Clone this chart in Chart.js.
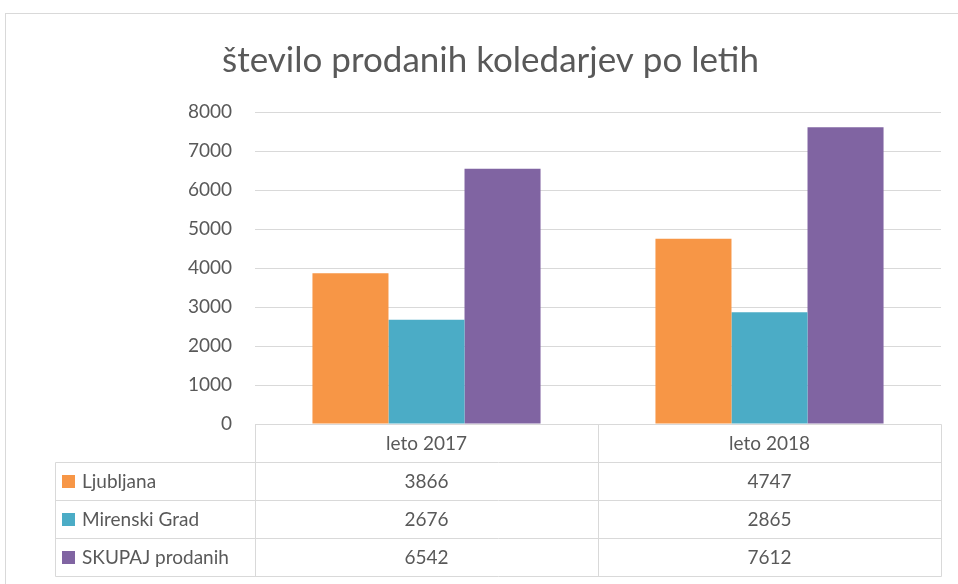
<!DOCTYPE html>
<html>
<head>
<meta charset="utf-8">
<script src="https://cdn.jsdelivr.net/npm/chart.js@4"></script>
<style>html,body{margin:0;padding:0;background:#fff;}</style>
</head>
<body>
<canvas id="grafico" width="958" height="584"></canvas>
<script>
var leta = ['leto 2017', 'leto 2018'];
var serije = ['Ljubljana', 'Mirenski Grad', 'SKUPAJ prodanih'];
var ljubljana = [3866, 4747];
var mirenski = [2676, 2865];
var skupaj = [6542, 7612];
var barve = ['#F79646', '#4BACC6', '#8064A2'];

var pisava = 'Lato, "Open Sans", sans-serif';
var siva = '#595959';
var crte = '#d9d9d9';

// okvir grafa
var okvir = {
    id: 'okvir',
    beforeDraw: function(chart) {
        var c = chart.ctx;
        c.save();
        c.fillStyle = '#fff';
        c.fillRect(0, 0, chart.width, chart.height);
        c.strokeStyle = crte;
        c.lineWidth = 1;
        c.strokeRect(5.5, 13.5, chart.width + 10, chart.height + 10);
        c.restore();
    }
};

// podatkovna tabela pod grafom
var tabela = {
    id: 'tabela',
    afterDraw: function(chart) {
        var c = chart.ctx, a = chart.chartArea, x = chart.scales.x;
        var levo = 55, vis = 38, vrh = Math.round(a.bottom) + 0.5;
        var sirina = (a.right - a.left) / leta.length;
        var meje = [Math.round(a.left) + 0.5];
        for (var i = 0; i < leta.length; i++) {
            meje.push(Math.round(x.getPixelForValue(i) + sirina / 2) + 0.5);
        }
        var desno = meje[meje.length - 1];
        var dno = vrh + vis * 4;
        c.save();
        c.strokeStyle = crte;
        c.lineWidth = 1;
        c.beginPath();
        c.moveTo(meje[0], vrh); c.lineTo(desno, vrh);
        for (var r = 1; r <= 4; r++) {
            c.moveTo(levo + 0.5, vrh + vis * r); c.lineTo(desno, vrh + vis * r);
        }
        c.moveTo(levo + 0.5, vrh + vis); c.lineTo(levo + 0.5, dno);
        meje.forEach(function(m) { c.moveTo(m, vrh); c.lineTo(m, dno); });
        c.stroke();

        var vrednosti = [ljubljana, mirenski, skupaj];
        c.font = '19px ' + pisava;
        c.textBaseline = 'middle';
        for (var s = 0; s < serije.length; s++) {
            var sred = vrh + vis * (s + 1) + vis / 2;
            c.fillStyle = barve[s];
            c.fillRect(62, Math.round(sred - 7), 13, 13);
            c.fillStyle = siva;
            c.textAlign = 'left';
            c.fillText(serije[s], 82, sred);
            c.textAlign = 'center';
            for (var k = 0; k < leta.length; k++) {
                c.fillText(String(vrednosti[s][k]), x.getPixelForValue(k), sred);
            }
        }
        c.restore();
    }
};

var ctx = document.getElementById('grafico').getContext('2d');
var graf = new Chart(ctx, {
    type: 'bar',
    data: {
        labels: leta,
        datasets: [
            { label: serije[0], data: ljubljana, backgroundColor: barve[0] },
            { label: serije[1], data: mirenski, backgroundColor: barve[1] },
            { label: serije[2], data: skupaj, backgroundColor: barve[2] }
        ]
    },
    options: {
        responsive: false,
        animation: false,
        layout: { padding: { left: 40, right: 17, top: 13, bottom: 8 } },
        datasets: { bar: { categoryPercentage: 0.665, barPercentage: 1.0 } },
        scales: {
            x: {
                grid: { display: false, drawTicks: false },
                border: { display: false },
                ticks: { color: siva, font: { family: pisava, size: 19 }, padding: 8, maxRotation: 0 },
                afterFit: function(axis) { axis.height = 152; }
            },
            y: {
                min: 0,
                max: 8000,
                ticks: {
                    stepSize: 1000, color: siva, font: { family: pisava, size: 19 }, padding: 23,
                    callback: function(v) { return String(v); }
                },
                grid: { color: crte, lineWidth: 1, drawTicks: false },
                border: { display: false },
                afterFit: function(axis) { axis.width = 215; }
            }
        },
        plugins: {
            title: {
                display: true,
                text: 'število prodanih koledarjev po letih',
                color: siva,
                font: { family: pisava, size: 35, weight: 'normal' },
                padding: { top: 27, bottom: 30 }
            },
            legend: { display: false },
            tooltip: { enabled: false }
        }
    },
    plugins: [okvir, tabela]
});
</script>
</body>
</html>
